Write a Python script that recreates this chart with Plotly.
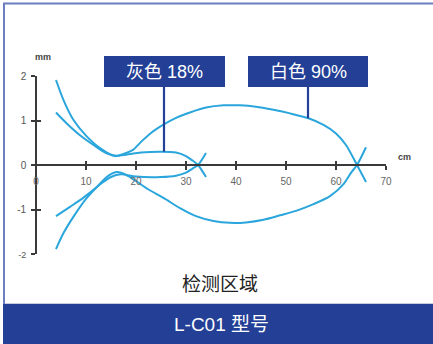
import plotly.graph_objects as go

# ---- data (cm, mm) ----
white_upper_x = [4, 5.5, 7.5, 10, 12.8, 15.8, 17.5, 19.4, 21, 23, 25.4, 28, 30.8, 34, 37.5, 40.8, 44, 47.5, 50.8, 54.5, 57.5, 60, 62, 64.2, 66]
white_upper_y = [1.91, 1.46, 1.01, 0.66, 0.38, 0.2, 0.25, 0.34, 0.52, 0.72, 0.9, 1.06, 1.18, 1.29, 1.34, 1.34, 1.31, 1.24, 1.16, 1.05, 0.9, 0.71, 0.45, 0, -0.38]
white_lower_x = [4, 5.5, 7.5, 10, 12.8, 14.5, 16.2, 18, 20, 22.5, 25.5, 28.8, 32, 35.5, 38.8, 42, 45.5, 48.8, 52, 55.5, 58.8, 61.5, 63.1, 64.2, 66]
white_lower_y = [-1.89, -1.53, -1.16, -0.76, -0.42, -0.24, -0.16, -0.22, -0.36, -0.55, -0.74, -0.97, -1.15, -1.26, -1.3, -1.29, -1.23, -1.13, -1.03, -0.88, -0.7, -0.43, -0.16, 0, 0.4]
gray_upper_x = [4, 6.1, 8.8, 11.5, 14, 16, 18, 21, 25, 28, 30, 31.3, 32.4, 34]
gray_upper_y = [1.18, 0.94, 0.67, 0.45, 0.27, 0.21, 0.23, 0.28, 0.3, 0.28, 0.2, 0.1, 0, -0.27]
gray_lower_x = [4, 6.8, 8.8, 10.8, 13, 15, 17, 20, 25, 28, 30, 31.3, 32.4, 34]
gray_lower_y = [-1.15, -0.94, -0.79, -0.62, -0.42, -0.27, -0.21, -0.26, -0.27, -0.24, -0.17, -0.08, 0, 0.27]

x_ticks = [0, 10, 20, 30, 40, 50, 60, 70]
y_ticks = [-2, -1, 0, 1, 2]
y_tick_text = ["<span style='font-size:9px'>-2</span>", "-1", "0", "1", "2"]

label_gray = "灰色 18%"
label_white = "白色 90%"
gray_pointer = (25.6, 0.3)
white_pointer = (54.4, 1.05)
zone_title = "检测区域"
banner_title = "L-C01 型号"

CURVE = "#2aa6dc"
NAVY = "#233f96"
AX = "#3a3a3a"
FONT = "Liberation Sans, Arial, sans-serif"
MIX = "Liberation Sans, Noto Sans CJK SC, sans-serif"

fig = go.Figure()
for xs, ys in [(white_upper_x, white_upper_y), (white_lower_x, white_lower_y),
               (gray_upper_x, gray_upper_y), (gray_lower_x, gray_lower_y)]:
    fig.add_trace(go.Scatter(x=xs, y=ys, mode="lines", line=dict(color=CURVE, width=2, shape="spline", smoothing=0.8),
                             hoverinfo="skip", showlegend=False))

# invisible trace on secondary axes to render the inside half of the crossing ticks
fig.add_trace(go.Scatter(x=[0, 70], y=[-2, 2], xaxis="x2", yaxis="y2", mode="markers",
                         marker=dict(opacity=0), hoverinfo="skip", showlegend=False))

axis_common = dict(showgrid=False, zeroline=False, linecolor=AX, linewidth=1.6,
                   tickcolor=AX, tickwidth=1.6, ticklen=4)

fig.update_layout(
    width=433, height=344,
    margin=dict(l=36, r=47, t=76, b=90),
    paper_bgcolor="white", plot_bgcolor="rgba(0,0,0,0)",
    xaxis=dict(range=[0, 70], tickvals=x_ticks, ticks="outside", showline=True,
               anchor="free", position=0.5, ticklabelstandoff=3,
               tickfont=dict(family=FONT, size=10, color="#666"), **axis_common),
    yaxis=dict(range=[-2, 2], tickvals=y_ticks, ticktext=y_tick_text, ticks="outside", showline=True,
               anchor="free", position=0, ticklabelstandoff=3,
               tickfont=dict(family=FONT, size=10, color="#555"), **axis_common),
    xaxis2=dict(range=[0, 70], tickvals=x_ticks, ticks="inside", showline=False, overlaying="x",
                anchor="free", position=0.5, showticklabels=False, **axis_common),
    yaxis2=dict(range=[-2, 2], tickvals=y_ticks, ticks="inside", showline=False, overlaying="y",
                anchor="free", position=0, showticklabels=False, **axis_common),
)

def px_x(px):
    return (px - 36) / 350.0

def px_y(py):
    return (254 - py) / 178.0

shapes = [
    # bottom banner
    dict(type="rect", xref="paper", yref="paper", x0=px_x(3), x1=px_x(440), y0=px_y(304), y1=px_y(350),
         fillcolor=NAVY, line=dict(width=0), layer="below"),
    dict(type="line", xref="paper", yref="paper", x0=px_x(3), x1=px_x(440), y0=px_y(303.5), y1=px_y(303.5),
         line=dict(color="#c8cde0", width=1)),
    # frame top and left
    dict(type="line", xref="paper", yref="paper", x0=px_x(3), x1=px_x(440), y0=px_y(3.5), y1=px_y(3.5),
         line=dict(color="#6b7fc0", width=2)),
    dict(type="line", xref="paper", yref="paper", x0=px_x(4), x1=px_x(4), y0=px_y(3), y1=px_y(304),
         line=dict(color="#6b7fc0", width=2)),
    # pointers
    dict(type="line", xref="x", yref="y", x0=gray_pointer[0], x1=gray_pointer[0],
         y0=gray_pointer[1], y1=2.3, line=dict(color=NAVY, width=2.2)),
    dict(type="line", xref="x", yref="y", x0=white_pointer[0], x1=white_pointer[0],
         y0=white_pointer[1], y1=2.3, line=dict(color=NAVY, width=2.2)),
    # label boxes
    dict(type="rect", xref="paper", yref="paper", x0=px_x(104), x1=px_x(225), y0=px_y(87), y1=px_y(56),
         fillcolor=NAVY, line=dict(width=0)),
    dict(type="rect", xref="paper", yref="paper", x0=px_x(248), x1=px_x(368), y0=px_y(87), y1=px_y(56),
         fillcolor=NAVY, line=dict(width=0)),
]
fig.update_layout(shapes=shapes)

ann = [
    dict(text=label_gray, xref="paper", yref="paper", x=px_x(164.5), y=px_y(72), showarrow=False,
         font=dict(family=MIX, size=18, color="white"), xanchor="center", yanchor="middle"),
    dict(text=label_white, xref="paper", yref="paper", x=px_x(308), y=px_y(72), showarrow=False,
         font=dict(family=MIX, size=18, color="white"), xanchor="center", yanchor="middle"),
    dict(text="<b>mm</b>", xref="paper", yref="paper", x=px_x(43), y=px_y(57), showarrow=False,
         font=dict(family=FONT, size=9, color="#444"), xanchor="center", yanchor="middle"),
    dict(text="<b>cm</b>", xref="paper", yref="paper", x=px_x(404), y=px_y(157), showarrow=False,
         font=dict(family=FONT, size=9, color="#444"), xanchor="center", yanchor="middle"),
    dict(text=zone_title, xref="paper", yref="paper", x=px_x(220), y=px_y(284), showarrow=False,
         font=dict(family=MIX, size=19, color="#222"), xanchor="center", yanchor="middle"),
    dict(text=banner_title, xref="paper", yref="paper", x=px_x(221), y=px_y(324), showarrow=False,
         font=dict(family=MIX, size=19, color="white"), xanchor="center", yanchor="middle"),
]
fig.update_layout(annotations=ann)

fig.write_html("out.html", config={"displayModeBar": False},
               post_script="document.body.style.margin='0';document.body.style.overflow='hidden';")
